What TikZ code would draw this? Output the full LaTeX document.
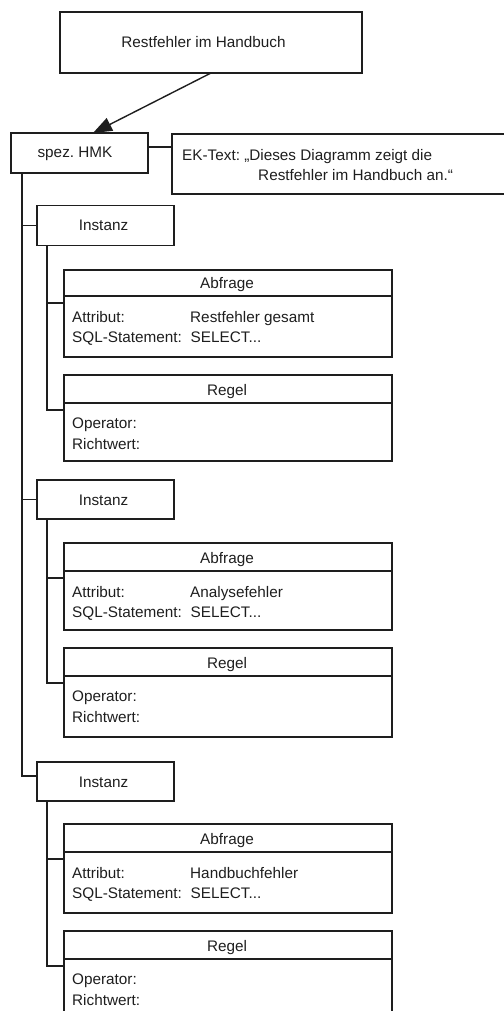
\documentclass[tikz,border=0pt]{standalone}
\usepackage{fontspec}
\setmainfont{Liberation Sans}
\usetikzlibrary{arrows.meta,calc}
\definecolor{ink}{RGB}{30,30,30}
\frenchspacing

% Query record: name, top, divider, bottom, attribute value
\newcommand{\abfragebox}[5]{%
  \node[box, minimum width=328pt, minimum height={#4-#2}] (#1) at (228,{(#2+#4)/2}) {};
  \draw[wire] (#1.west |- 0,#3) -- (#1.east |- 0,#3);
  \node[lbl, anchor=base] (#1-title) at (227,#3-8) {Abfrage};
  \node[lbl, anchor=base west] (#1-attr) at (72,#3+26.5) {Attribut:};
  \node[lbl, anchor=base west] (#1-attrval) at (190,#3+26.5) {#5};
  \node[lbl, anchor=base west] (#1-sql) at (72,#3+46.5) {SQL-Statement:};
  \node[lbl, anchor=base west] (#1-sqlval) at (190.5,#3+46.5) {SELECT...};
  \coordinate (#1-port) at (#1.west |- 0,#3+7);
}
% Rule record: name, top, divider, bottom
\newcommand{\regelbox}[4]{%
  \node[box, minimum width=328pt, minimum height={#4-#2}] (#1) at (228,{(#2+#4)/2}) {};
  \draw[wire] (#1.west |- 0,#3) -- (#1.east |- 0,#3);
  \node[lbl, anchor=base] (#1-title) at (227,#3-8) {Regel};
  \node[lbl, anchor=base west] (#1-op) at (72,#3+25.5) {Operator:};
  \node[lbl, anchor=base west] (#1-rw) at (72,#3+46) {Richtwert:};
  \coordinate (#1-port) at (#1.west |- 0,#3+7);
}

\begin{document}
\begin{tikzpicture}[x=1pt,y=-1pt,
  box/.style={draw=ink, line width=1.4pt, rectangle, inner sep=0pt, outer sep=0pt},
  wire/.style={draw=ink, line width=1.4pt},
  lbl/.style={inner sep=0pt, font=\fontsize{15.3}{18}\selectfont, text=ink},
]
\useasboundingbox (0,0) rectangle (503,1011);

% diagram title
\node[box, minimum width=302pt, minimum height=61pt] (title) at (211,42.5) {};
\node[lbl, anchor=base] (title-t) at (203.5,47.5) {Restfehler im Handbuch};

% key figure and its description
\node[box, minimum width=137pt, minimum height=40pt] (hmk) at (79.5,153) {};
\node[lbl, anchor=base] (hmk-t) at (75,158) {spez. HMK};
\node[box, minimum width=350pt, minimum height=60pt, anchor=north west] (ek) at (172,134) {};
\node[lbl, anchor=base west] (ek-1) at (182,160.5) {EK-Text: „Dieses Diagramm zeigt die};
\node[lbl, anchor=base west] (ek-2) at (258,180.5) {Restfehler im Handbuch an.“};

\draw[wire, -{Triangle[length=19pt,width=14pt]}] (title.south) -- ($(hmk.north)+(13.5,0)$);
\draw[wire] ($(hmk.north east)+(0,14)$) -- ($(ek.north west)+(0,13)$);

% instances
\node[box, minimum width=137pt, minimum height=40pt] (inst1) at (105.5,225.3) {};
\node[lbl, anchor=base] (inst1-t) at (103.5,230.8) {Instanz};
\node[box, minimum width=137pt, minimum height=39pt] (inst2) at (105.5,499.5) {};
\node[lbl, anchor=base] (inst2-t) at (103.5,505) {Instanz};
\node[box, minimum width=137pt, minimum height=39pt] (inst3) at (105.5,781.5) {};
\node[lbl, anchor=base] (inst3-t) at (103.5,787) {Instanz};

% records per instance
\abfragebox{abf1}{270}{296}{357}{Restfehler gesamt}
\regelbox{reg1}{375}{403}{461}
\abfragebox{abf2}{543}{571}{630}{Analysefehler}
\regelbox{reg2}{648}{676}{737}
\abfragebox{abf3}{824}{852}{913}{Handbuchfehler}
\regelbox{reg3}{931}{959}{1030}

% tree connectors
\coordinate (trunk) at ($(hmk.south west)+(11,0)$);
\draw[wire] (trunk) |- (inst1.west);
\draw[wire] (trunk) |- (inst2.west);
\draw[wire] (trunk) |- ($(inst3.west)+(0,-5.5)$);

\foreach \i in {1,2,3} {
  \coordinate (sub\i) at ($(inst\i.south west)+(10,0)$);
  \draw[wire] (sub\i) |- (abf\i-port);
  \draw[wire] (sub\i) |- (reg\i-port);
}
\end{tikzpicture}
\end{document}
